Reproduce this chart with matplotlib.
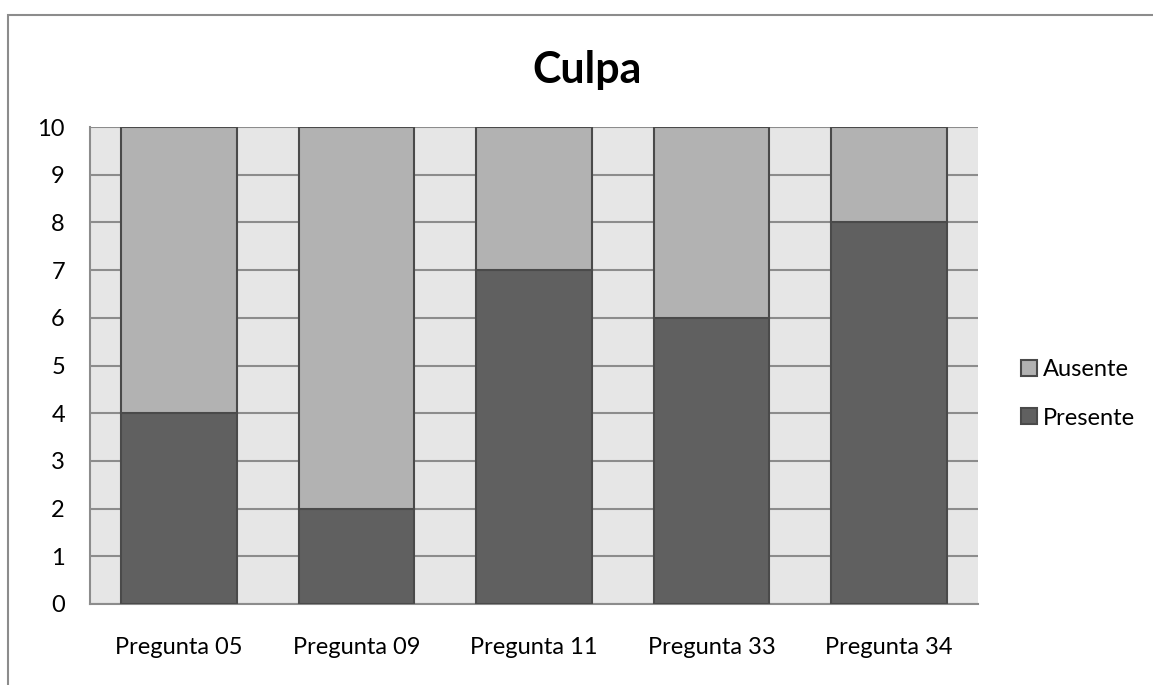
import matplotlib.pyplot as plt
from matplotlib.patches import Rectangle
import numpy as np

categories = ['Pregunta 05', 'Pregunta 09', 'Pregunta 11', 'Pregunta 33', 'Pregunta 34']
presente = [4, 2, 7, 6, 8]
ausente = [6, 8, 3, 4, 2]

plt.rcParams['font.family'] = ['Lato', 'DejaVu Sans']

fig = plt.figure(figsize=(11.53, 6.85), dpi=100)

# outer chart border (cut off at right and bottom)
fig.patches.append(Rectangle((8 / 1153, -0.05), 1.2, 1 - 15 / 685 + 0.05,
                             transform=fig.transFigure, fill=False,
                             edgecolor='#8c8c8c', linewidth=1.5))

ax = fig.add_axes([90 / 1153, 1 - 604 / 685, 888 / 1153, 477 / 685])
ax.set_facecolor('#e6e6e6')

x = np.arange(len(categories))
w = 0.65
ax.bar(x, presente, w, color='#606060', edgecolor='#4a4a4a', linewidth=1.5,
       label='Presente', zorder=3)
ax.bar(x, ausente, w, bottom=presente, color='#b2b2b2', edgecolor='#4a4a4a',
       linewidth=1.5, label='Ausente', zorder=3)

ax.set_xlim(-0.5, len(categories) - 0.5)
ax.set_ylim(0, 10)
ax.set_yticks(range(0, 11))
ax.set_xticks(x)
ax.set_xticklabels(categories)
ax.yaxis.grid(True, color='#8c8c8c', linewidth=1.5, zorder=1)
ax.set_axisbelow(True)
ax.tick_params(length=0, labelsize=17, colors='black')
ax.tick_params(axis='y', pad=18)
ax.tick_params(axis='x', pad=24)
for s in ['top', 'right']:
    ax.spines[s].set_visible(False)
for s in ['left', 'bottom']:
    ax.spines[s].set_color('#8c8c8c')
    ax.spines[s].set_linewidth(1.5)

fig.text(587 / 1153, 1 - 70 / 685, 'Culpa', ha='center', va='center',
         fontsize=31, fontweight='bold')

h, l = ax.get_legend_handles_labels()
leg = fig.legend(h[::-1], l[::-1], loc='center left',
                 bbox_to_anchor=(1021 / 1153, 1 - 394 / 685),
                 frameon=False, fontsize=17, handlelength=0.68, handleheight=0.68,
                 handletextpad=0.25, labelspacing=1.15, borderpad=0, borderaxespad=0)

fig.savefig('out.png', dpi=100)
